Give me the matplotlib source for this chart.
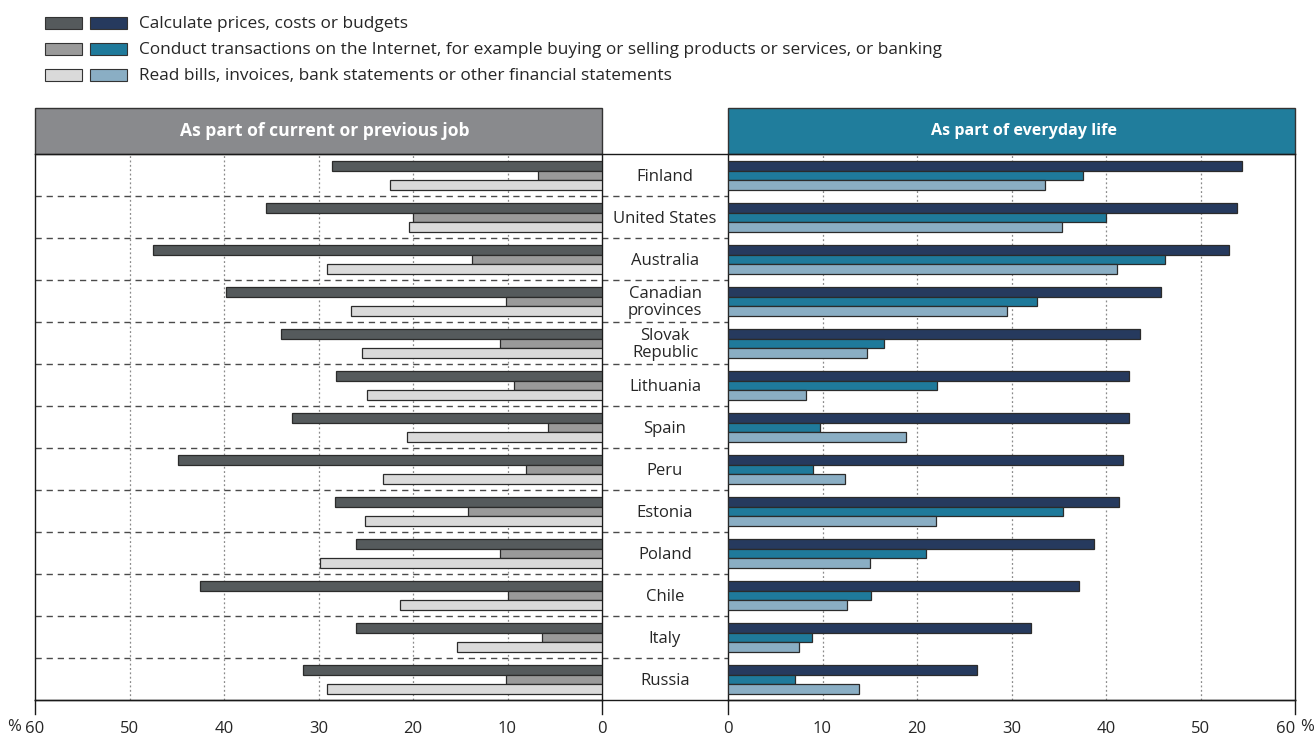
import matplotlib
matplotlib.use("Agg")
import matplotlib.pyplot as plt
from matplotlib.patches import Rectangle
from matplotlib.lines import Line2D
from matplotlib.transforms import blended_transform_factory
import numpy as np

plt.rcParams['font.family'] = ['Open Sans', 'DejaVu Sans']

countries = ["Finland", "United States", "Australia", "Canadian\nprovinces", "Slovak\nRepublic",
             "Lithuania", "Spain", "Peru", "Estonia", "Poland", "Chile", "Italy", "Russia"]

series_labels = ["Calculate prices, costs or budgets",
                 "Conduct transactions on the Internet, for example buying or selling products or services, or banking",
                 "Read bills, invoices, bank statements or other financial statements"]

job_calc = [28.6, 35.6, 47.5, 39.8, 34.0, 28.2, 32.8, 44.9, 28.3, 26.0, 42.5, 26.0, 31.6]
job_internet = [6.8, 20.0, 13.8, 10.2, 10.8, 9.3, 5.7, 8.0, 14.2, 10.8, 10.0, 6.4, 10.2]
job_bills = [22.4, 20.4, 29.1, 26.6, 25.4, 24.9, 20.6, 23.2, 25.1, 29.8, 21.4, 15.3, 29.1]

life_calc = [54.4, 53.9, 53.0, 45.8, 43.6, 42.4, 42.4, 41.8, 41.4, 38.7, 37.1, 32.1, 26.4]
life_internet = [37.6, 40.0, 46.2, 32.7, 16.5, 22.1, 9.7, 9.0, 35.5, 20.9, 15.1, 8.9, 7.1]
life_bills = [33.5, 35.3, 41.2, 29.5, 14.7, 8.3, 18.8, 12.4, 22.0, 15.0, 12.6, 7.5, 13.9]

ticks = [0, 10, 20, 30, 40, 50, 60]
panel_titles = ["As part of current or previous job", "As part of everyday life"]

left_colors = ["#555a5c", "#9a9a9a", "#dadada"]
right_colors = ["#263a5e", "#1f7a9b", "#8aaec4"]
header_colors = ["#898a8d", "#207d9c"]
edge = "#2b2b2b"
text_color = "#262626"

W, H = 1315, 736
fig = plt.figure(figsize=(W / 100, H / 100), dpi=100)

def fx(px):
    return px / W

def fy(py):
    return 1 - py / H

y_top, y_bot = 154, 700
axL = fig.add_axes([fx(35), fy(y_bot), fx(602) - fx(35), fy(y_top) - fy(y_bot)])
axR = fig.add_axes([fx(728), fy(y_bot), fx(1295) - fx(728), fy(y_top) - fy(y_bot)])

n = len(countries)
ypos = np.arange(n)
bh = 0.232
offsets = [-bh, 0, bh]

for ax, data, colors in [(axL, [job_calc, job_internet, job_bills], left_colors),
                         (axR, [life_calc, life_internet, life_bills], right_colors)]:
    for vals, off, c in zip(data, offsets, colors):
        ax.barh(ypos + off + 0.01, vals, height=bh, color=c, edgecolor=edge, linewidth=0.9, zorder=3)
    ax.set_ylim(n - 0.5, -0.5)
    ax.set_xlim(0, 60)
    ax.set_xticks(ticks)
    ax.set_yticks([])
    ax.tick_params(axis='x', length=0, pad=15, labelsize=12, labelcolor=text_color)
    for x in ticks[1:-1]:
        ax.axvline(x, color="#8a8a8a", linestyle=(0, (1.5, 2.0)), linewidth=0.9, zorder=1)
    for s in ax.spines.values():
        s.set_color("#1a1a1a")
        s.set_linewidth(1.0)
    ax.spines['top'].set_visible(False)

axL.invert_xaxis()
axL.set_xticklabels([str(t) for t in ticks])
axR.set_xticklabels([str(t) for t in ticks])
axR.get_xticklabels()[-1].set_horizontalalignment('right')

# horizontal dashed separators spanning whole width
trans = blended_transform_factory(fig.transFigure, axL.transData)
for i in range(1, n):
    axL.add_line(Line2D([fx(35), fx(1295)], [i - 0.5, i - 0.5], transform=trans,
                        color="#4a4a4a", linestyle=(0, (4.5, 3.5)), linewidth=1.0,
                        clip_on=False, zorder=2))

# full-width lines at top and bottom
for py in (y_top, y_bot):
    fig.add_artist(Line2D([fx(35), fx(1295)], [fy(py), fy(py)], color="#1a1a1a", linewidth=1.0))

# edge extension ticks
for px in (35, 602, 728, 1295):
    fig.add_artist(Line2D([fx(px), fx(px)], [fy(y_bot), fy(y_bot + 14)], color="#1a1a1a", linewidth=1.0))

# headers
for (x0, x1), title, hc, tx, fs in zip([(35, 602), (728, 1295)], panel_titles, header_colors,
                                       [325, 1024], [12.6, 11.6]):
    fig.add_artist(Rectangle((fx(x0), fy(y_top)), fx(x1) - fx(x0), fy(108) - fy(y_top),
                             facecolor=hc, edgecolor="#333333", linewidth=1.0,
                             transform=fig.transFigure))
    fig.text(fx(tx), fy(131), title, color="white", fontsize=fs,
             fontweight="bold", ha="center", va="center")

# country labels
for i, c in enumerate(countries):
    axL.text(fx(665), i + 0.04, c, transform=trans, ha="center", va="center",
             fontsize=12, color=text_color, linespacing=1.05)

# percent signs
fig.text(fx(14), fy(727), "%", ha="center", va="center", fontsize=12, color=text_color)
fig.text(fx(1307), fy(727), "%", ha="center", va="center", fontsize=12, color=text_color)

# legend
for i, lab in enumerate(series_labels):
    yc = 23 + 26 * i
    fig.add_artist(Rectangle((fx(45), fy(yc + 6)), fx(37), fy(0) - fy(12),
                             facecolor=left_colors[i], edgecolor="#333333", linewidth=0.8,
                             transform=fig.transFigure))
    fig.add_artist(Rectangle((fx(90), fy(yc + 6)), fx(37), fy(0) - fy(12),
                             facecolor=right_colors[i], edgecolor="#333333", linewidth=0.8,
                             transform=fig.transFigure))
    fig.text(fx(139), fy(yc + 1), lab, ha="left", va="center", fontsize=12.4, color=text_color)

fig.savefig("out.png", dpi=100)
